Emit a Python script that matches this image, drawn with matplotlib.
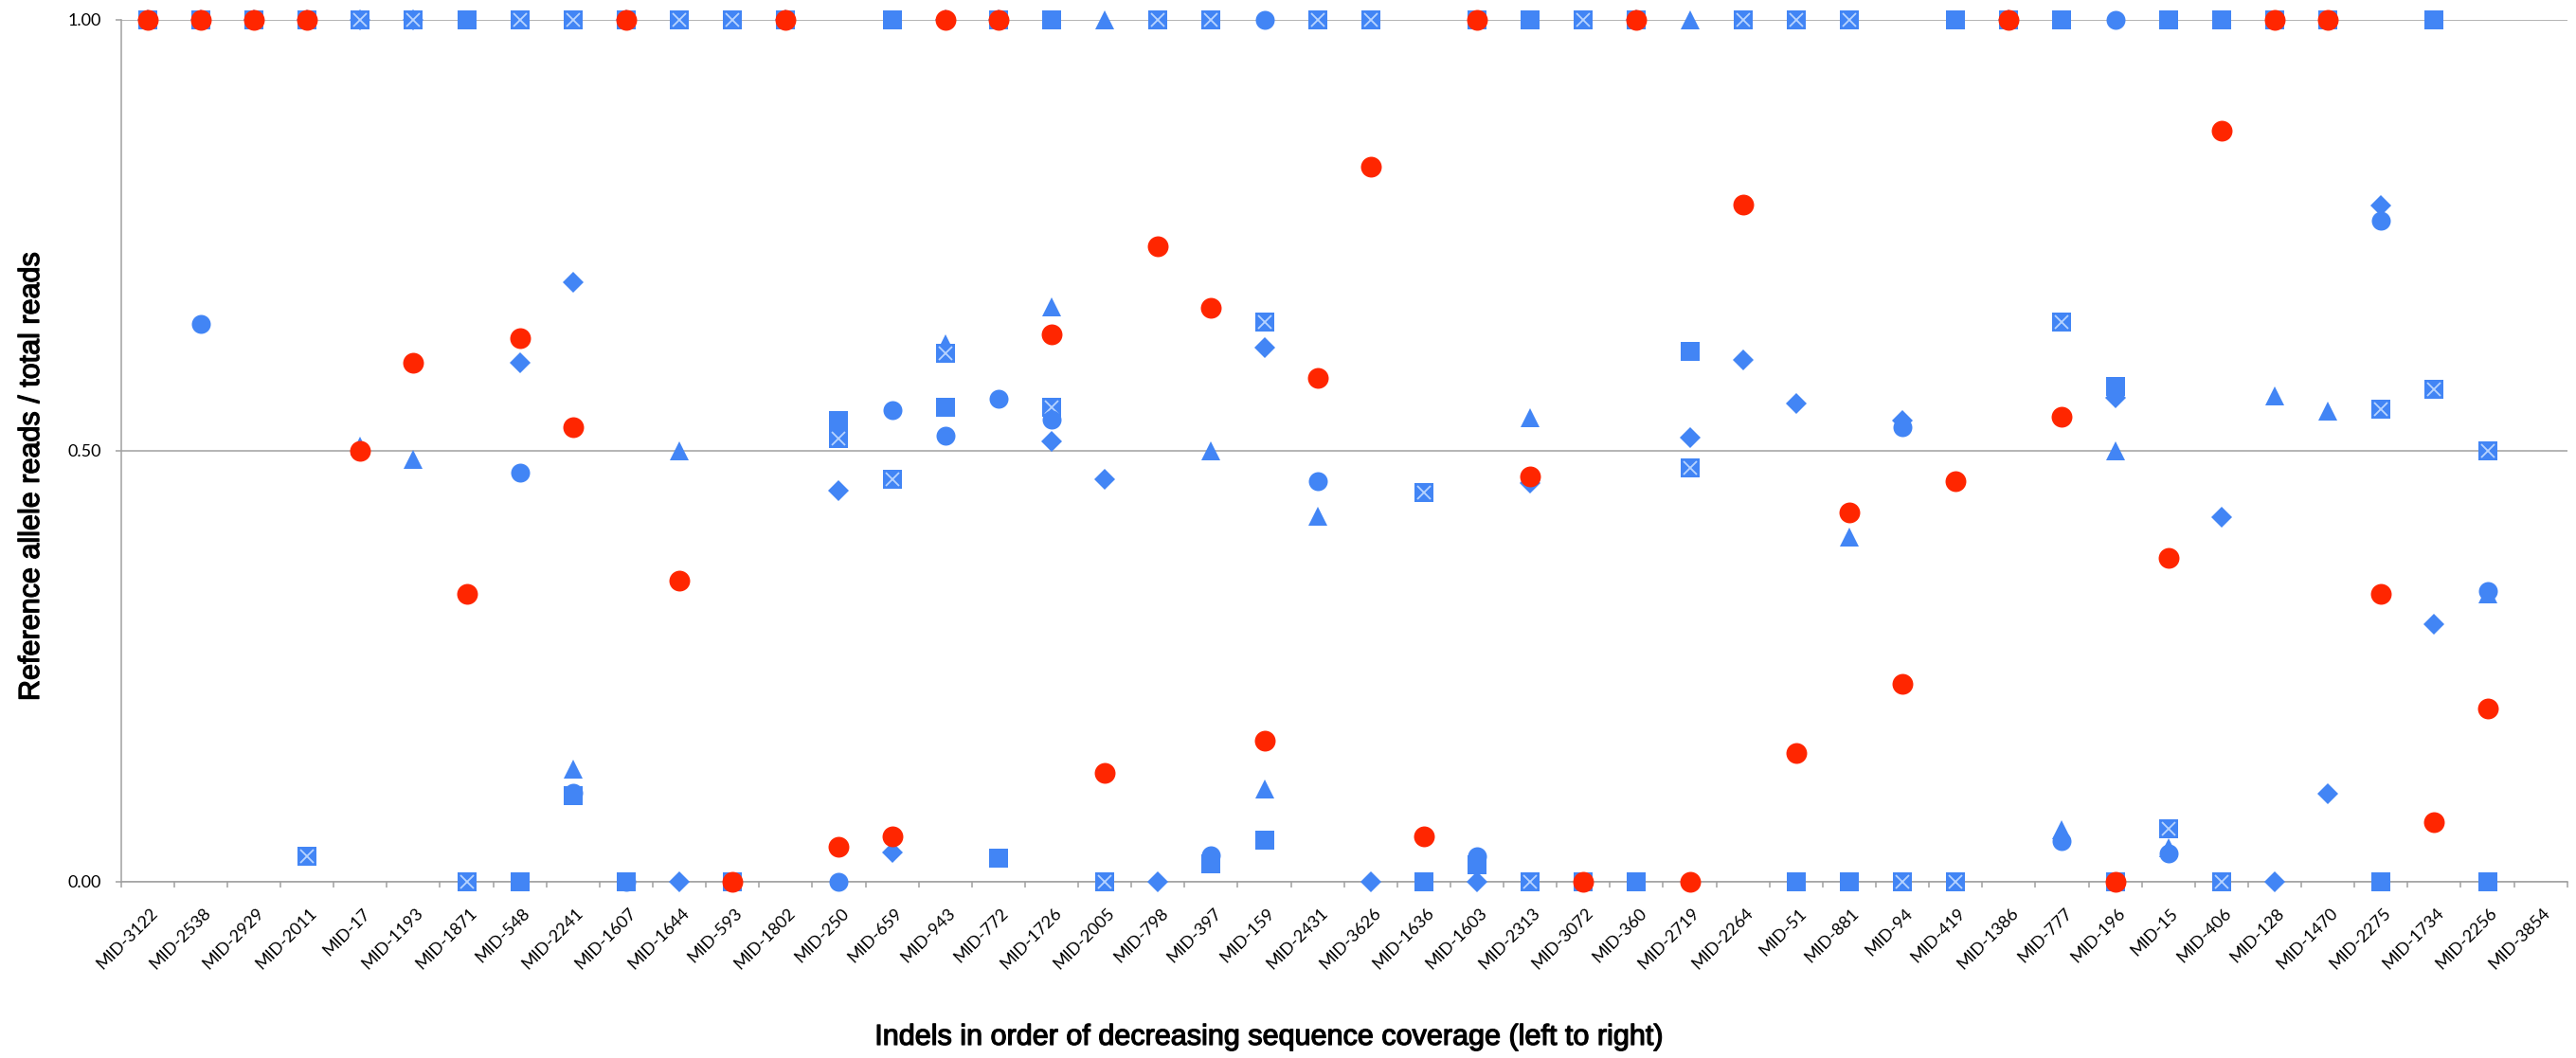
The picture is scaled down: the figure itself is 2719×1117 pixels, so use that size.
import numpy as np
import matplotlib.pyplot as plt
import matplotlib.patheffects as pe
from matplotlib.transforms import ScaledTranslation

n = np.nan

indels = ['MID-3122', 'MID-2538', 'MID-2929', 'MID-2011', 'MID-17', 'MID-1193',
          'MID-1871', 'MID-548', 'MID-2241', 'MID-1607', 'MID-1644', 'MID-593',
          'MID-1802', 'MID-250', 'MID-659', 'MID-943', 'MID-772', 'MID-1726',
          'MID-2005', 'MID-798', 'MID-397', 'MID-159', 'MID-2431', 'MID-3626',
          'MID-1636', 'MID-1603', 'MID-2313', 'MID-3072', 'MID-360', 'MID-2719',
          'MID-2264', 'MID-51', 'MID-881', 'MID-94', 'MID-419', 'MID-1386',
          'MID-777', 'MID-196', 'MID-15', 'MID-406', 'MID-128', 'MID-1470',
          'MID-2275', 'MID-1734', 'MID-2256', 'MID-3854']

# reference allele fraction per sample, one list per sample
diamond = [1, 1, 1, 1, 1, 1, n, 0.602, 0.696, 1, 0, n,
           1, 0.454, 0.034, 1, 1, 0.511, 0.467, 0, n, 0.62, n, 0,
           n, 0, 0.463, n, 1, 0.515, 0.605, 0.555, n, 0.535, n, 1,
           n, 0.562, n, 0.423, 0, 0.102, 0.785, 0.299, n, n]
square = [1, 1, 1, 1, 1, 1, 1, 0, 0.10, 0, n, 0,
          1, 0.535, 1, 0.551, 0.027, 1, n, n, 0.021, 0.048, n, n,
          0, 0.02, 1, 0, 0, 0.615, n, 0, 0, n, 1, 1,
          1, 0.575, 1, 1, 1, 1, 0, 1, 0, n]
triangle = [1, 1, 1, 1, 0.505, 0.49, n, n, 0.131, 1, 0.5, n,
            1, n, n, 0.624, 1, 0.667, 1, n, 0.5, 0.108, 0.424, n,
            n, 1, 0.538, n, 1, 1, n, n, 0.40, n, n, 1,
            0.06, 0.5, 0.04, n, 0.564, 0.546, 0, n, 0.334, n]
crossed = [1, 1, 1, 0.03, 1, 1, 0, 1, 1, 1, 1, 1,
           1, 0.514, 0.467, 0.613, 1, 0.551, 0, 1, 1, 0.649, 1, 1,
           0.452, 1, 0, 1, 1, 0.48, 1, 1, 1, 0, 0, 1,
           0.649, 0, 0.062, 0, 1, 1, 0.548, 0.571, 0.5, n]
circle = [1, 0.647, 1, 1, 0.5, n, n, 0.475, 0.103, 0, n, n,
          1, 0, 0.547, 0.518, 0.56, 0.536, n, n, 0.031, 1, 0.465, n,
          n, 0.03, 0.468, n, 1, n, n, n, n, 0.527, n, 1,
          0.047, 1, 0.033, n, 1, 1, 0.767, n, 0.337, n]
red = [1, 1, 1, 1, 0.5, 0.602, 0.334, 0.631, 0.528, 1, 0.349, 0,
       1, 0.041, 0.053, 1, 1, 0.635, 0.126, 0.737, 0.666, 0.164, 0.585, 0.83,
       0.053, 1, 0.47, 0, 1, 0, 0.786, 0.149, 0.429, 0.23, 0.465, 1,
       0.54, 0, 0.376, 0.871, 1, 1, 0.334, 0.069, 0.201, n]

blue = '#4285F5'
light = '#B8D4FF'
grey = '#A0A0A0'

x = np.arange(len(indels)) + 0.5

fig = plt.figure(figsize=(27.19, 11.17), dpi=100)
ax = fig.add_axes([0.04697, 0.16652, 0.94961, 0.81468])

kw = dict(linestyle='none', clip_on=False, markeredgewidth=0)
ax.plot(x, diamond, marker='D', ms=10.8, color=blue, zorder=3, **kw)
ax.plot(x, square, marker='s', ms=14.4, color=blue, zorder=4, **kw)
ax.plot(x, triangle, marker='^', ms=14.4, color=blue, zorder=5, **kw)
ax.plot(x, crossed, marker='s', ms=14.4, color=blue, zorder=6, **kw)
ax.plot(x, crossed, marker='x', ms=10, color=light, zorder=6.5,
        linestyle='none', clip_on=False, markeredgewidth=1.3)
ax.plot(x, circle, marker='o', ms=14.4, color=blue, zorder=7, **kw)
ax.plot(x, red, marker='o', ms=15.8, color='#FF2600', zorder=8, **kw)

ax.set_xlim(0, len(indels))
ax.set_ylim(0, 1)

for side in ['top', 'right']:
    ax.spines[side].set_visible(False)
for side in ['left', 'bottom']:
    ax.spines[side].set_color(grey)
    ax.spines[side].set_linewidth(1.1)
ax.yaxis.grid(True, color=grey, linewidth=1.1)
ax.set_axisbelow(True)

ax.set_yticks([0, 0.5, 1])
ax.set_yticklabels(['0.00', '0.50', '1.00'], family='Lato', fontsize=13)
ax.tick_params(axis='y', direction='out', length=4.3, width=1.1, color=grey, pad=10.5)

ax.set_xticks(np.arange(len(indels) + 1))
ax.set_xticks(x, minor=True)
ax.set_xticklabels(indels, minor=True, rotation=45, ha='right', va='center',
                   rotation_mode='anchor', family='Lato', fontsize=13)
ax.tick_params(axis='x', which='major', direction='out', length=4.3, width=1.1,
               color=grey, labelbottom=False)
ax.tick_params(axis='x', which='minor', length=0, pad=22)
shift = ScaledTranslation(0.08, 0, fig.dpi_scale_trans)
for lbl in ax.get_xticklabels(minor=True):
    lbl.set_transform(lbl.get_transform() + shift)

# slightly heavier strokes for the axis titles
heavy = [pe.withStroke(linewidth=0.9, foreground='black')]
fig.text(33 / 2719, 1 - 504 / 1117, 'Reference allele reads / total reads',
         rotation=90, ha='center', va='center', fontsize=22,
         family='Liberation Sans', path_effects=heavy)
fig.text(1338 / 2719, 1 - 1095 / 1117,
         'Indels in order of decreasing sequence coverage (left to right)',
         ha='center', va='center', fontsize=22, family='Liberation Sans',
         path_effects=heavy)

fig.savefig('out.png', dpi=100)
